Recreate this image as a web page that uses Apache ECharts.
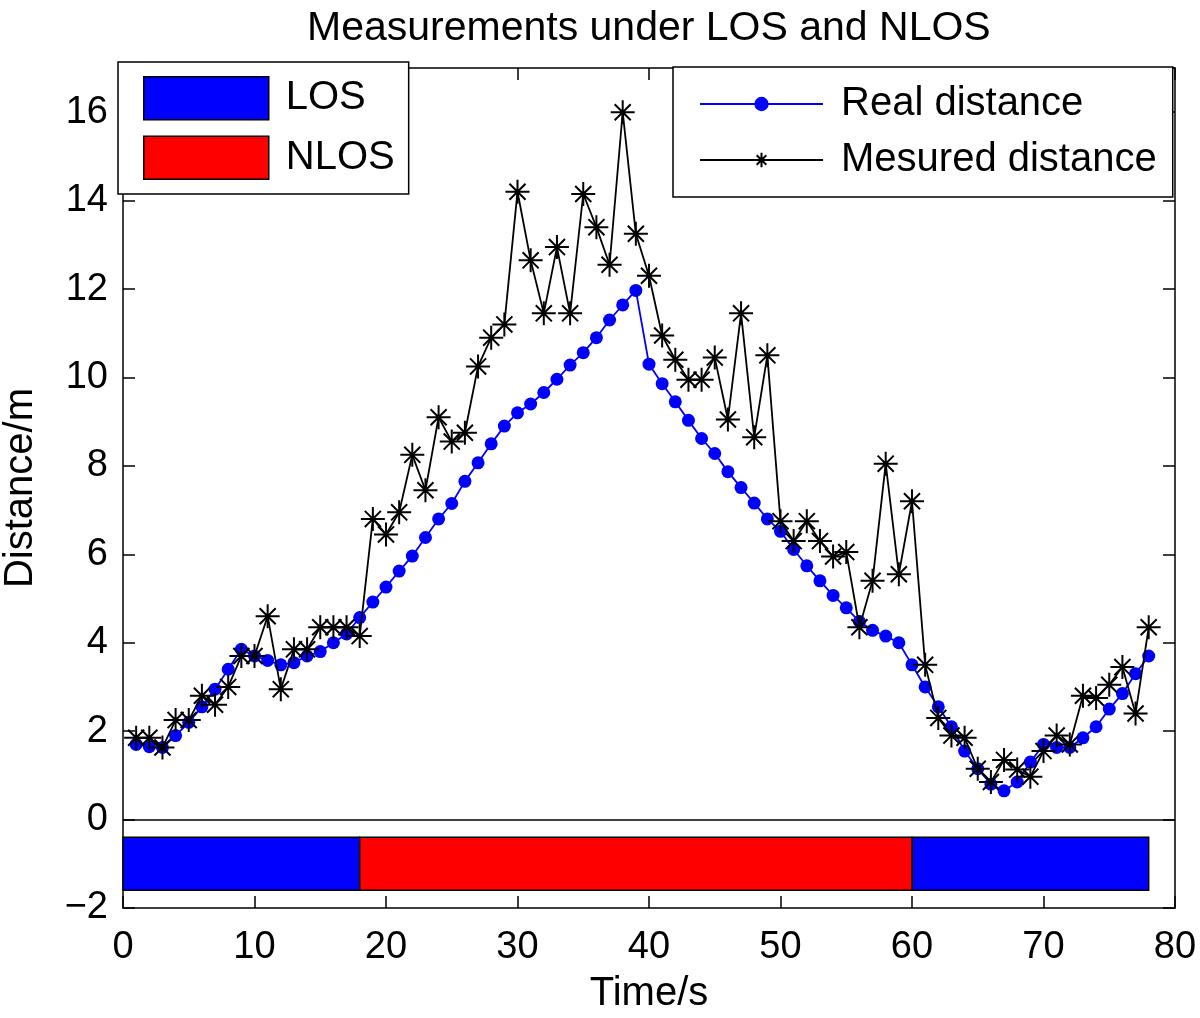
<!DOCTYPE html>
<html>
<head>
<meta charset="utf-8">
<script src="https://cdn.jsdelivr.net/npm/echarts@6/dist/echarts.min.js"></script>
<style>html,body{margin:0;padding:0;background:#fff}#c{width:1200px;height:1018px}</style>
</head>
<body>
<div id="c"></div>
<script>
const time = [1,2,3,4,5,6,7,8,9,10,11,12,13,14,15,16,17,18,19,20,21,22,23,24,25,26,27,28,29,30,31,32,33,34,35,36,37,38,39,40,41,42,43,44,45,46,47,48,49,50,51,52,53,54,55,56,57,58,59,60,61,62,63,64,65,66,67,68,69,70,71,72,73,74,75,76,77,78];
const realDistance = [1.7,1.65,1.63,1.9,2.2,2.55,2.95,3.4,3.85,3.7,3.6,3.5,3.55,3.7,3.8,4.0,4.2,4.57,4.92,5.26,5.62,5.96,6.38,6.8,7.15,7.65,8.07,8.5,8.9,9.2,9.4,9.66,9.96,10.28,10.56,10.9,11.3,11.64,11.97,10.3,9.86,9.45,9.03,8.62,8.28,7.87,7.51,7.16,6.8,6.52,6.11,5.74,5.4,5.07,4.79,4.48,4.28,4.15,4.0,3.5,3.0,2.55,2.1,1.55,1.15,0.8,0.65,0.85,1.3,1.7,1.63,1.63,1.85,2.1,2.5,2.85,3.3,3.7];
const measuredDistance = [1.85,1.85,1.63,2.25,2.25,2.8,2.6,3.0,3.7,3.7,4.6,2.95,3.85,3.85,4.35,4.35,4.35,4.15,6.8,6.45,6.95,8.25,7.45,9.1,8.55,8.75,10.25,10.9,11.2,14.2,12.65,11.45,12.95,11.45,14.15,13.4,12.55,16.0,13.25,12.3,10.95,10.4,9.95,9.95,10.45,9.05,11.45,8.65,10.5,6.75,6.3,6.75,6.3,5.95,6.05,4.35,5.4,8.05,5.55,7.2,3.5,2.3,1.9,1.85,1.15,0.85,1.35,1.13,0.97,1.55,1.9,1.7,2.8,2.75,3.05,3.45,2.4,4.35];
const losSegments = [[0,18],[60,78]];
const nlosSegments = [[18,60]];
const bandRange = [-1.6, -0.4];

const FONT = '"Liberation Sans", Arial, Helvetica, sans-serif';
const chart = echarts.init(document.getElementById('c'), null, {renderer: 'canvas'});

function bandRender(params, api) {
  const p0 = api.coord([api.value(0), bandRange[1]]);
  const p1 = api.coord([api.value(1), bandRange[0]]);
  return {
    type: 'rect',
    shape: {x: p0[0], y: p0[1], width: p1[0] - p0[0], height: p1[1] - p0[1]},
    style: {fill: api.visual('color'), stroke: '#000', lineWidth: 1.5}
  };
}
const starPath = 'path://M10,0L10,20M0,10L20,10M3.3,3.3L16.7,16.7M3.3,16.7L16.7,3.3';
const fmt = v => String(v).replace('-', '\u2212');

function axisCommon() {
  return {
    axisLine: {show: true, onZero: false, lineStyle: {color: '#000', width: 1.5}},
    axisTick: {show: true, inside: true, length: 12, lineStyle: {color: '#000', width: 1.5}},
    splitLine: {show: false}
  };
}

chart.setOption({
  animation: false,
  backgroundColor: '#fff',
  title: {
    text: 'Measurements under LOS and NLOS',
    left: 302, top: 3,
    textStyle: {fontFamily: FONT, fontSize: 41, fontWeight: 'normal', color: '#000'}
  },
  grid: {left: 123, right: 25, top: 68, bottom: 110, containLabel: false, outerBoundsMode: 'none'},
  xAxis: [
    Object.assign(axisCommon(), {
      type: 'value', min: 0, max: 80, interval: 10, position: 'bottom',
      name: 'Time/s', nameLocation: 'middle', nameGap: 66,
      nameTextStyle: {fontFamily: FONT, fontSize: 40, color: '#000'},
      axisLabel: {fontFamily: FONT, fontSize: 38, color: '#000', margin: 21, formatter: fmt}
    }),
    Object.assign(axisCommon(), {
      type: 'value', min: 0, max: 80, interval: 10, position: 'top',
      axisLabel: {show: false}
    })
  ],
  yAxis: [
    Object.assign(axisCommon(), {
      type: 'value', min: -2, max: 17, interval: 2, position: 'left',
      name: 'Distance/m', nameLocation: 'middle', nameGap: 82, nameRotate: 90,
      nameTextStyle: {fontFamily: FONT, fontSize: 40, color: '#000'},
      axisLabel: {fontFamily: FONT, fontSize: 38, color: '#000', margin: 15, showMaxLabel: false, formatter: fmt}
    }),
    Object.assign(axisCommon(), {
      type: 'value', min: -2, max: 17, interval: 2, position: 'right',
      axisLabel: {show: false}
    })
  ],
  legend: [
    {
      data: [
        {name: 'LOS', icon: 'rect', itemStyle: {borderColor: '#000', borderWidth: 1.5}},
        {name: 'NLOS', icon: 'rect', itemStyle: {borderColor: '#000', borderWidth: 1.5}}
      ],
      orient: 'vertical', left: 118, top: 62,
      itemWidth: 125, itemHeight: 43, itemGap: 15,
      padding: [14, 14, 14, 25],
      borderColor: '#000', borderWidth: 1.5, backgroundColor: '#fff',
      textStyle: {fontFamily: FONT, fontSize: 40, color: '#000', padding: [0, 0, 0, 12]},
      selectedMode: false
    },
    {
      data: ['Real distance', 'Mesured distance'],
      orient: 'vertical', left: 673, top: 67,
      itemWidth: 123, itemHeight: 18, itemGap: 16,
      padding: [17, 16, 17, 26],
      borderColor: '#000', borderWidth: 1.5, backgroundColor: '#fff',
      textStyle: {fontFamily: FONT, fontSize: 40, color: '#000', padding: [0, 0, 0, 13]},
      selectedMode: false
    }
  ],
  series: [
    {
      name: 'LOS', type: 'custom', renderItem: bandRender,
      data: losSegments, encode: {x: [0, 1]},
      itemStyle: {color: '#0000ff'}, z: 2, silent: true
    },
    {
      name: 'NLOS', type: 'custom', renderItem: bandRender,
      data: nlosSegments, encode: {x: [0, 1]},
      itemStyle: {color: '#ff0000'}, z: 2, silent: true
    },
    {
      name: 'Real distance', type: 'line',
      data: time.map((t, i) => [t, realDistance[i]]),
      symbol: 'circle', symbolSize: 13, showAllSymbol: true,
      lineStyle: {color: '#0000ff', width: 1.8},
      itemStyle: {color: '#0000ff'},
      z: 3,
      markLine: {
        silent: true, symbol: 'none', label: {show: false},
        lineStyle: {color: '#000', width: 1.5, type: 'solid'},
        data: [{yAxis: 0}]
      }
    },
    {
      name: 'Mesured distance', type: 'line',
      data: time.map((t, i) => [t, measuredDistance[i]]),
      symbol: starPath, symbolSize: 24, showAllSymbol: true,
      lineStyle: {color: '#000', width: 1.8},
      itemStyle: {color: '#000', borderColor: '#000', borderWidth: 2},
      z: 4
    }
  ]
});
</script>
</body>
</html>
